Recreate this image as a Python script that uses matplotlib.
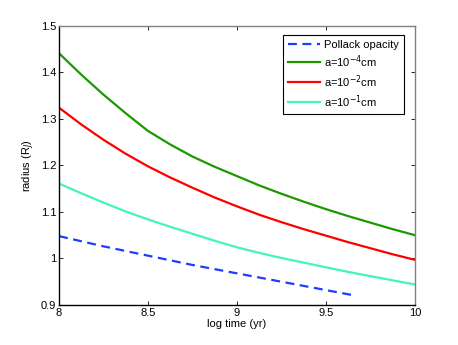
import matplotlib
matplotlib.use("Agg")
import matplotlib.pyplot as plt

log_t = [8.0, 8.125, 8.25, 8.375, 8.5, 8.625, 8.75, 8.875, 9.0,
         9.125, 9.25, 9.375, 9.5, 9.625, 9.75, 9.875, 10.0]
r_a4 = [1.441, 1.395, 1.352, 1.312, 1.274, 1.245, 1.219, 1.197, 1.177,
        1.157, 1.139, 1.122, 1.106, 1.091, 1.077, 1.063, 1.050]
r_a2 = [1.324, 1.288, 1.255, 1.225, 1.198, 1.174, 1.152, 1.131, 1.112,
        1.094, 1.078, 1.063, 1.049, 1.035, 1.022, 1.009, 0.997]
r_a1 = [1.161, 1.140, 1.120, 1.101, 1.084, 1.068, 1.053, 1.038, 1.024,
        1.012, 1.001, 0.991, 0.981, 0.971, 0.962, 0.953, 0.944]

log_t_pollack = [8.0, 8.125, 8.25, 8.375, 8.5, 8.625, 8.75, 8.875, 9.0,
                 9.125, 9.25, 9.375, 9.5, 9.625, 9.67]
r_pollack = [1.048, 1.037, 1.026, 1.016, 1.006, 0.996, 0.986, 0.977, 0.968,
             0.959, 0.950, 0.941, 0.932, 0.923, 0.920]

xticks = [8, 8.5, 9, 9.5, 10]
xticklabels = ["8", "8.5", "9", "9.5", "10"]
yticks = [0.9, 1.0, 1.1, 1.2, 1.3, 1.4, 1.5]
yticklabels = ["0.9", "1", "1.1", "1.2", "1.3", "1.4", "1.5"]

plt.rcParams["font.family"] = "Liberation Sans"
plt.rcParams["font.size"] = 8

fig = plt.figure(figsize=(4.58, 3.45), dpi=100)
ax = fig.add_axes([0.129, 0.116, 0.777, 0.809])

ax.plot(log_t_pollack, r_pollack, color="#1f3bff", lw=1.6, ls=(0, (4, 2.5)), label="Pollack opacity")
ax.plot(log_t, r_a4, color="#1a9a00", lw=1.6, label="a=10$^{-4}$cm")
ax.plot(log_t, r_a2, color="#ff0000", lw=1.6, label="a=10$^{-2}$cm")
ax.plot(log_t, r_a1, color="#44f5b5", lw=1.6, label="a=10$^{-1}$cm")

ax.set_xlim(8, 10)
ax.set_ylim(0.9, 1.5)
ax.set_xticks(xticks)
ax.set_xticklabels(xticklabels)
ax.set_yticks(yticks)
ax.set_yticklabels(yticklabels)
ax.tick_params(direction="in", top=True, right=True, length=3, width=0.6, pad=2)
for side in ["left", "bottom"]:
    ax.spines[side].set_color("black")
for side in ["top", "right"]:
    ax.spines[side].set_color("#808080")
for s in ax.spines.values():
    s.set_linewidth(1)

ax.set_xlabel("log time (yr)", labelpad=1)
ax.set_ylabel("radius (R$_J$)", labelpad=3)

leg = ax.legend(loc="upper right", bbox_to_anchor=(0.968, 0.966), fancybox=False,
                edgecolor="black", framealpha=1, handlelength=2.9, borderpad=0.4,
                labelspacing=0.3, handletextpad=0.4, borderaxespad=0)
leg.get_frame().set_linewidth(0.8)

fig.savefig("out.png", dpi=100)
